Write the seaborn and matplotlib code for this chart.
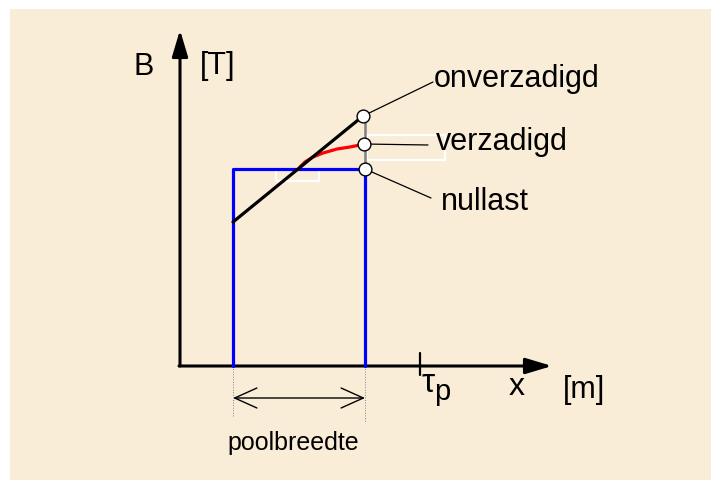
import numpy as np
import pandas as pd
import seaborn as sns
import matplotlib.pyplot as plt
from matplotlib.patches import Rectangle

# =========================
# DIAGRAM DATA (x along the pole pitch, B = flux density, arbitrary units)
# =========================

pole_x = [53, 185]          # start / end of the pole (poolbreedte)
tau_p = 240                 # pole pitch tick
x_axis_end = 372
b_axis_end = 336

b_nullast = 197             # no-load flux density (blue block)
b_onverzadigd_start = 144   # unsaturated line at pole start
b_onverzadigd = 250         # unsaturated line at pole end
b_verzadigd = 222           # saturated value at pole end

# saturated curve
red_x = [120, 125, 133, 143, 157, 170, 180, 184]
red_b = [199, 204, 209, 213, 217, 219, 221, 222]

labels = ["onverzadigd", "verzadigd", "nullast"]
label_b = [279, 216, 156]
label_x = [254, 256, 261]
leader_end = [(253, 284), (248, 221), (251, 168)]

# =========================
# FIGURE
# =========================

sns.set_theme(style="white")
plt.rcParams['font.family'] = ['Liberation Sans', 'DejaVu Sans']
plt.rcParams['text.color'] = 'black'

fig = plt.figure(figsize=(7.11, 4.8), dpi=100)
fig.patch.set_facecolor("white")

ax = fig.add_axes([0, 0, 1, 1])
ax.set_xlim(-180, 531)
ax.set_ylim(-114, 366)
ax.axis("off")

# beige slide background with a thin white margin top / left
ax.add_patch(Rectangle((10 / 711, 0), 1, 1 - 9 / 480, transform=fig.transFigure,
                       facecolor="#FAEDD7", edgecolor="none", zorder=0))

# =========================
# AXES WITH ARROWS
# =========================

axis_arrow = dict(arrowstyle="-|>,head_length=0.8,head_width=0.24",
                  mutation_scale=20, lw=2.2, color="black",
                  shrinkA=0, shrinkB=0)
ax.annotate("", xy=(0, b_axis_end), xytext=(0, 0), arrowprops=axis_arrow)
ax.annotate("", xy=(x_axis_end, 0), xytext=(-1, 0), arrowprops=axis_arrow)
ax.plot([tau_p, tau_p], [13, -9], color="black", lw=1.6)

# =========================
# WHITE OUTLINE BOXES
# =========================

ax.add_patch(Rectangle((187, 206), 78, 25, fill=False, edgecolor="white", lw=1.6, zorder=1))
ax.add_patch(Rectangle((96, 185), 43, 11, fill=False, edgecolor="white", lw=1.6, zorder=1))

# =========================
# CURVES
# =========================

blue_df = pd.DataFrame({
    "x": [pole_x[0], pole_x[0], pole_x[1], pole_x[1]],
    "B": [0, b_nullast, b_nullast, 0]
})
sns.lineplot(data=blue_df, x="x", y="B", sort=False, estimator=None,
             color="#0000FF", lw=2.3, ax=ax, zorder=3)

sns.lineplot(x=red_x, y=red_b, sort=False, estimator=None,
             color="#FF0000", lw=2.3, ax=ax, zorder=3)

sns.lineplot(x=[pole_x[0], pole_x[1] - 2], y=[b_onverzadigd_start, b_onverzadigd], sort=False,
             estimator=None, color="black", lw=2.3, ax=ax, zorder=4)

ax.plot([pole_x[1], pole_x[1]], [b_nullast, b_onverzadigd], color="#808080", lw=1.8, zorder=2)

# =========================
# LEADER LINES + LABELS
# =========================

circle_x = [pole_x[1] - 2, pole_x[1] - 1, pole_x[1]]
circle_b = [b_onverzadigd, b_verzadigd, b_nullast]
for cx, cb, (lx, lb), txt, tx, tb in zip(circle_x, circle_b, leader_end, labels, label_x, label_b):
    ax.plot([cx, lx], [cb, lb], color="black", lw=0.9, zorder=2)
    ax.text(tx, tb, txt, fontsize=22, va="baseline", ha="left", color="black")

sns.scatterplot(x=circle_x, y=circle_b, s=85, color="white",
                edgecolor="black", linewidth=1.0, ax=ax, zorder=5)

# =========================
# AXIS LABELS
# =========================

ax.text(-47, 291, "B", fontsize=22, va="baseline")
ax.text(20, 292, "[T]", fontsize=22, va="baseline")
ax.text(329, -29, "x", fontsize=23, va="baseline")
ax.text(383, -32, "[m]", fontsize=22, va="baseline")
ax.text(242, -26, "τ", fontsize=24, va="baseline")
ax.text(254, -34, "p", fontsize=21, va="baseline")

# =========================
# POOLBREEDTE
# =========================

for px, end in zip(pole_x, [-51, -56]):
    ax.plot([px, px], [0, end], color="#808080", lw=0.7, ls=":")

ax.annotate("", xy=(pole_x[1], -32), xytext=(pole_x[0], -32),
            arrowprops=dict(arrowstyle="<->,head_length=0.8,head_width=0.36",
                            mutation_scale=20, lw=1.0, color="black",
                            shrinkA=0, shrinkB=0))
ax.text(sum(pole_x) / 2 - 6, -84, "poolbreedte", fontsize=18, ha="center", va="baseline")

plt.savefig("out.png", dpi=100)
